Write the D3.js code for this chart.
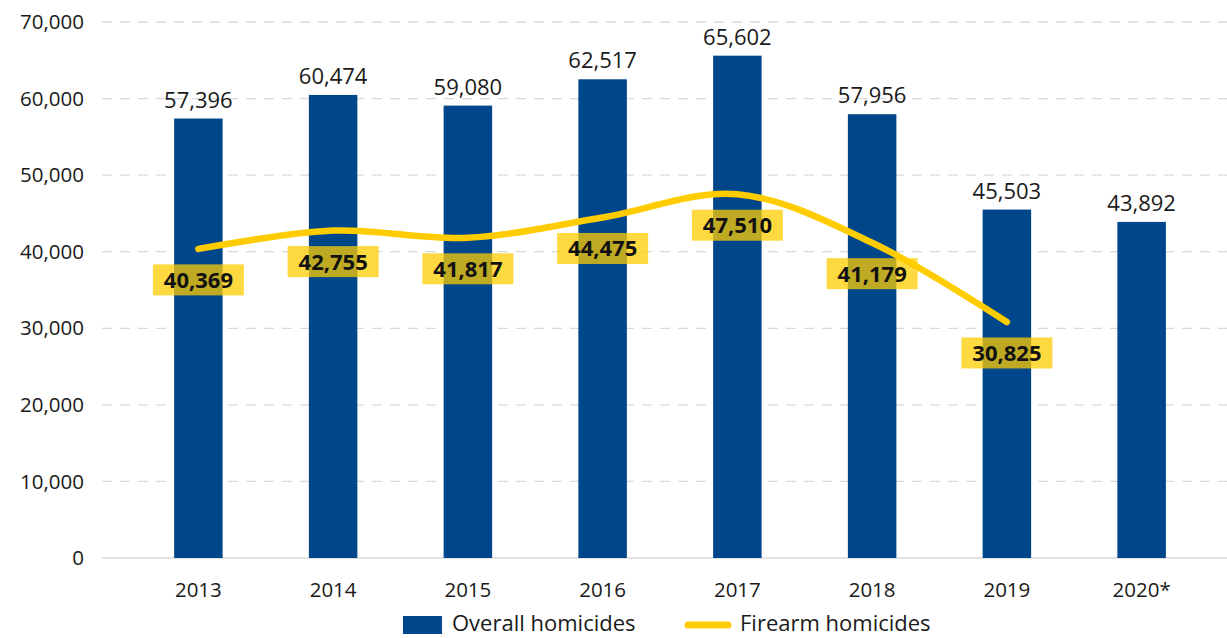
<!DOCTYPE html>
<html>
<head>
<meta charset="utf-8">
<script src="https://cdn.jsdelivr.net/npm/d3@7"></script>
<style>
	body { margin: 0; background: #fff; }
	text { font-family: "Open Sans", "Noto Sans", sans-serif; fill: #1a1a1a; }
</style>
</head>
<body>
<div class="chart"></div>
<script>
	var years = ["2013", "2014", "2015", "2016", "2017", "2018", "2019", "2020*"];
	var overall = [57396, 60474, 59080, 62517, 65602, 57956, 45503, 43892];
	var firearm = [40369, 42755, 41817, 44475, 47510, 41179, 30825];
	var yTicks = [0, 10000, 20000, 30000, 40000, 50000, 60000, 70000];

	var W = 1227, H = 638;
	var svg = d3.select(".chart").append("svg")
		.attr("width", W)
		.attr("height", H);

	var x = d3.scaleBand().domain(years).range([131, 1209])
			.paddingInner(0.64).paddingOuter(0.32),
		y = d3.scaleLinear().domain([0, 70000]).range([558, 22]);

	var fmt = d3.format(",");

	// gridlines
	svg.append("g").selectAll("line")
		.data(yTicks.slice(1))
		.enter().append("line")
		.attr("x1", 102).attr("x2", W)
		.attr("y1", function (d) { return y(d); })
		.attr("y2", function (d) { return y(d); })
		.attr("stroke", "#d9d9d9")
		.attr("stroke-width", 1.3)
		.attr("stroke-dasharray", "10,8");

	svg.append("line")
		.attr("x1", 102).attr("x2", W)
		.attr("y1", y(0)).attr("y2", y(0))
		.attr("stroke", "#d9d9d9")
		.attr("stroke-width", 1.5);

	// y axis labels
	svg.append("g").selectAll("text")
		.data(yTicks)
		.enter().append("text")
		.attr("x", 84)
		.attr("y", function (d) { return y(d); })
		.attr("dy", "0.35em")
		.attr("text-anchor", "end")
		.style("font-size", "20.5px")
		.text(function (d) { return fmt(d); });

	// x axis labels
	svg.append("g").selectAll("text")
		.data(years)
		.enter().append("text")
		.attr("x", function (d) { return x(d) + x.bandwidth() / 2; })
		.attr("y", 597)
		.attr("text-anchor", "middle")
		.style("font-size", "20.5px")
		.text(function (d) { return d; });

	// bars
	svg.append("g").selectAll("rect")
		.data(overall)
		.enter().append("rect")
		.attr("x", function (d, i) { return x(years[i]); })
		.attr("width", x.bandwidth())
		.attr("y", function (d) { return y(d); })
		.attr("height", function (d) { return y(0) - y(d); })
		.attr("fill", "#00468b");

	svg.append("g").selectAll("text")
		.data(overall)
		.enter().append("text")
		.attr("x", function (d, i) { return x(years[i]) + x.bandwidth() / 2; })
		.attr("y", function (d) { return y(d) - 11; })
		.attr("text-anchor", "middle")
		.style("font-size", "22px")
		.text(function (d) { return fmt(d); });

	// firearm line
	var line = d3.line()
		.x(function (d, i) { return x(years[i]) + x.bandwidth() / 2; })
		.y(function (d) { return y(d); })
		.curve(d3.curveCatmullRom.alpha(0.5));

	svg.append("path")
		.datum(firearm)
		.attr("d", line)
		.attr("fill", "none")
		.attr("stroke", "#ffcc00")
		.attr("stroke-width", 6.5)
		.attr("stroke-linecap", "round");

	var labels = svg.append("g").selectAll("g")
		.data(firearm)
		.enter().append("g")
		.attr("transform", function (d, i) {
			return "translate(" + (x(years[i]) + x.bandwidth() / 2) + "," + (y(d) + 31) + ")";
		});

	labels.append("rect")
		.attr("x", -45.5).attr("y", -15.5)
		.attr("width", 91).attr("height", 31)
		.attr("fill", "#ffcc00")
		.attr("opacity", 0.75);

	labels.append("text")
		.attr("text-anchor", "middle")
		.attr("dy", "0.36em")
		.style("font-size", "22px")
		.style("font-weight", "bold")
		.style("fill", "#111")
		.text(function (d) { return fmt(d); });

	// legend (kept just inside the bottom edge)
	var legend = svg.append("g");
	legend.append("rect")
		.attr("x", 403).attr("y", 616)
		.attr("width", 39).attr("height", 18)
		.attr("fill", "#00468b");
	legend.append("text")
		.attr("x", 452).attr("y", 631)
		.style("font-size", "22px")
		.text("Overall homicides");
	legend.append("line")
		.attr("x1", 688).attr("x2", 728)
		.attr("y1", 625).attr("y2", 625)
		.attr("stroke", "#ffcc00")
		.attr("stroke-width", 7)
		.attr("stroke-linecap", "round");
	legend.append("text")
		.attr("x", 740).attr("y", 631)
		.style("font-size", "22px")
		.text("Firearm homicides");
</script>
</body>
</html>
